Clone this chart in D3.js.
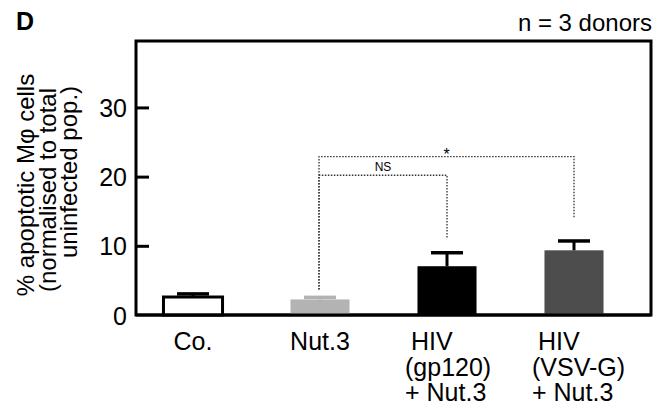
<!DOCTYPE html>
<html>
<head>
<meta charset="utf-8">
<script src="https://cdn.jsdelivr.net/npm/d3@7"></script>
<style>
  body { margin: 0; background: #fff; }
  text { font-family: "Liberation Sans", Arial, sans-serif; fill: #000; }
</style>
</head>
<body>
<svg id="chart" width="668" height="406"></svg>
<script>
// data
var groups = ["Co.", "Nut.3", "HIV gp120", "HIV VSV-G"];
var groupLines = [["Co."], ["Nut.3"], ["HIV", "(gp120)", "+ Nut.3"], ["HIV", "(VSV-G)", "+ Nut.3"]];
var means = [2.6, 2.25, 7.05, 9.35];
var errors = [0.45, 0.3, 1.95, 1.35];
var fills = ["#ffffff", "#b3b3b3", "#000000", "#4d4d4d"];
var yTicks = [0, 10, 20, 30];
// significance brackets: [from group, to group, bracket level, left leg end, right leg end, label]
var brackets = [
  ["Nut.3", "HIV VSV-G", 22.9, 3.7, 13.9, "*"],
  ["Nut.3", "HIV gp120", 20.2, 3.7, 11.2, "NS"]
];

var svg = d3.select("#chart");

var frame = {left: 136, right: 651, top: 41, bottom: 315};

var y = d3.scaleLinear().domain([0, 39.6]).range([frame.bottom, frame.top]);
var x = d3.scaleBand().domain(groups)
    .range([129.5, 637.5])
    .paddingInner(0.535)
    .paddingOuter(0.2675);
var bw = x.bandwidth();
function cx(g) { return x(g) + bw / 2; }

// frame box
svg.append("rect")
    .attr("x", frame.left).attr("y", frame.top)
    .attr("width", frame.right - frame.left)
    .attr("height", frame.bottom - frame.top)
    .attr("fill", "none").attr("stroke", "#000").attr("stroke-width", 3);

// y axis, ticks pointing inward
var yAxis = d3.axisRight(y).tickValues(yTicks).tickSize(13).tickFormat(d3.format("d"));
var ag = svg.append("g").attr("transform", "translate(" + frame.left + ",0)").call(yAxis);
ag.select(".domain").remove();
ag.selectAll(".tick line").attr("stroke", "#000").attr("stroke-width", 3);
ag.selectAll(".tick line").filter(function(d) { return d === 0; }).remove();
ag.selectAll(".tick text")
    .attr("x", -9).attr("text-anchor", "end")
    .style("font-size", "25px").style("font-family", "Liberation Sans, Arial, sans-serif")
    .attr("dy", "0.36em");

// bars
svg.selectAll("rect.bar").data(groups).enter().append("rect")
    .attr("class", "bar")
    .attr("x", function(d) { return x(d); })
    .attr("width", bw)
    .attr("y", function(d, i) { return y(means[i]); })
    .attr("height", function(d, i) { return y(0) - y(means[i]); })
    .attr("fill", function(d, i) { return fills[i]; })
    .attr("stroke", function(d, i) { return i === 0 ? "#000" : "none"; })
    .attr("stroke-width", 3);

// error bars (upper only)
var capHalf = 16;
groups.forEach(function(g, i) {
  var col = i === 1 ? fills[1] : "#000";
  svg.append("line")
      .attr("x1", cx(g)).attr("x2", cx(g))
      .attr("y1", y(means[i])).attr("y2", y(means[i] + errors[i]))
      .attr("stroke", col).attr("stroke-width", 3);
  svg.append("line")
      .attr("x1", cx(g) - capHalf).attr("x2", cx(g) + capHalf)
      .attr("y1", y(means[i] + errors[i])).attr("y2", y(means[i] + errors[i]))
      .attr("stroke", col).attr("stroke-width", 3.5);
});

// baseline on top of bars
svg.append("line")
    .attr("x1", frame.left).attr("x2", frame.right)
    .attr("y1", frame.bottom).attr("y2", frame.bottom)
    .attr("stroke", "#000").attr("stroke-width", 3);

// brackets
brackets.forEach(function(b) {
  var x1 = cx(b[0]) - 1, x2 = cx(b[1]);
  svg.append("path")
      .attr("d", "M" + x1 + "," + y(b[3]) + "V" + y(b[2]) + "H" + x2 + "V" + y(b[4]))
      .attr("fill", "none").attr("stroke", "#333")
      .attr("stroke-width", 1.3).attr("stroke-dasharray", "1.5,1.5");
  svg.append("text")
      .attr("x", b[5] === "*" ? (x1 + x2) / 2 : x1 + 64)
      .attr("y", y(b[2]) - (b[5] === "*" ? -3 : 4))
      .attr("text-anchor", "middle")
      .style("font-size", b[5] === "*" ? "16px" : "12px")
      .text(b[5]);
});

// category labels
groupLines.forEach(function(lines, i) {
  var g = groups[i];
  lines.forEach(function(t, j) {
    var multi = lines.length > 1;
    svg.append("text")
        .attr("x", multi ? cx(g) - (j === 0 ? 36 : 42) : cx(g))
        .attr("y", 350 + j * 25.5)
        .attr("text-anchor", multi ? "start" : "middle")
        .style("font-size", "25px")
        .text(t);
  });
});

// y title
var yTitle = ["% apoptotic M\u03c6 cells", "(normalised to total", "uninfected pop.)"];
var titleCy = [185, 190, 172];
yTitle.forEach(function(t, j) {
  svg.append("text")
      .attr("transform", "translate(" + (34 + j * 21.5) + "," + titleCy[j] + ") rotate(-90)")
      .attr("text-anchor", "middle")
      .style("font-size", "24px")
      .text(t);
});

// panel letter and note
svg.append("text").attr("x", 16).attr("y", 30)
    .style("font-size", "25px").style("font-weight", "bold").text("D");
svg.append("text").attr("x", 652).attr("y", 31)
    .attr("text-anchor", "end").style("font-size", "24px").text("n = 3 donors");
</script>
</body>
</html>
